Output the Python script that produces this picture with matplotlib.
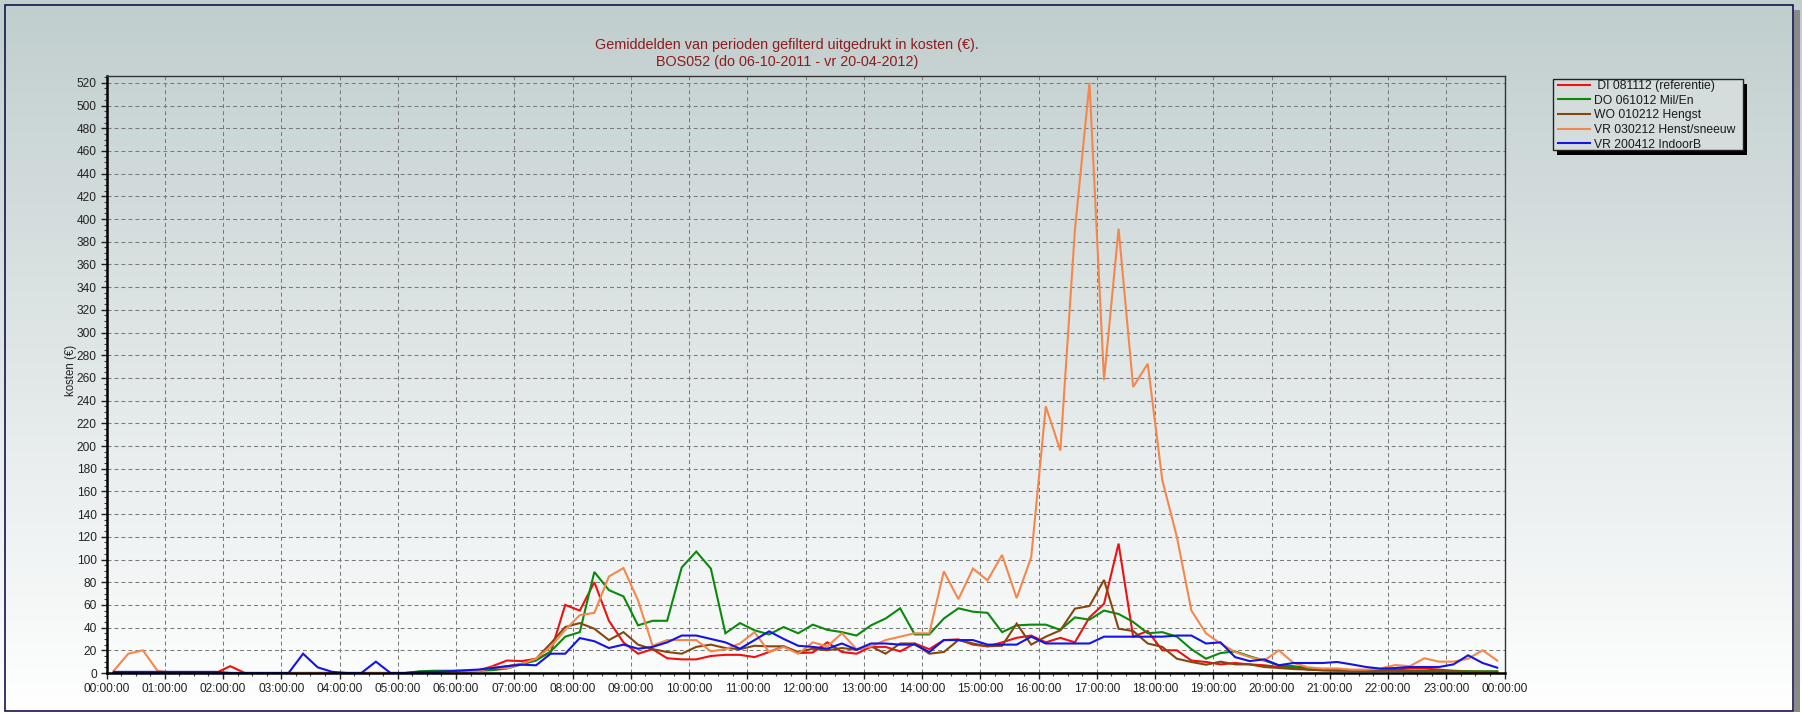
import numpy as np
import matplotlib
matplotlib.use("Agg")
import matplotlib.pyplot as plt
from matplotlib.patches import Rectangle
from matplotlib.ticker import MultipleLocator, FixedLocator

plt.rcParams['font.family'] = ['Liberation Sans', 'DejaVu Sans']

W, H = 1802, 714

# 15-minute slots (values plotted at slot midpoints), hours of the day
slot_minutes = 15
n_slots = 96

hour_labels = ["%02d:00:00" % h for h in range(24)] + ["00:00:00"]

series_names = [" DI 081112 (referentie)", "DO 061012 Mil/En", "WO 010212 Hengst",
                "VR 030212 Henst/sneeuw", "VR 200412 IndoorB"]
series_colors = ["#ee1111", "#0a8a0a", "#84480f", "#f5874d", "#1414e6"]

di_081112 = [0, 0, 0, 0, 0, 0, 0, 0, 6, 0, 0, 0, 0, 0, 0, 0, 0, 0, 0, 0, 0, 0, 0, 0,
             1, 2, 6, 11, 10.5, 12.5, 18, 60, 55, 80, 46, 27, 17, 21, 13, 12, 12, 15, 16, 16,
             14, 18.5, 23.5, 17.6, 18, 27, 18.5, 17, 23, 23, 19, 26, 21, 29, 29.6, 25, 23.5, 27, 31, 33,
             27, 31, 27, 49, 61, 114,
             32, 37, 20, 20, 11, 9.7, 7.6, 8.8, 7.6, 6.8, 5.3, 5.3, 3, 2.5, 2, 2, 2, 2, 3, 4, 4, 3, 2, 1.5, 1, 1]

do_061012 = [0, 0, 0, 0, 0, 0, 0, 0, 0, 0, 0, 0, 0, 0, 0, 0, 0, 0, 0, 0, 0, 1.5, 2, 2,
             2, 2, 2.5, 4, 7.6, 11, 19, 32, 36, 89, 73, 67.5, 42, 46, 46, 93, 107, 92, 35, 44,
             37.6, 34, 40.5, 35, 42.6, 38, 36, 33, 42, 48, 57, 34, 34, 48, 57, 54, 53, 36, 42, 42.6,
             42.6, 38, 49, 47, 55, 52,
             45, 35, 36, 32, 21, 12.6, 17.6, 19, 14.7, 11, 6.8, 6, 4.4, 3, 3, 2.5, 2, 2, 2, 2, 2, 1.5, 1.5, 1.5, 1.5, 1.5]

wo_010212 = [0, 0, 0, 0, 0, 0, 0, 0, 0, 0, 0, 0, 0, 0, 0, 0, 0, 0, 0, 0, 0, 0, 0, 0,
             1, 2, 4, 6, 8, 12.6, 26, 40.5, 44, 39, 29, 36, 25, 21, 18.5, 17, 23, 25, 22, 21,
             24, 23.5, 23.5, 18.5, 21.4, 20, 22, 20.5, 23.5, 17, 26, 26, 17, 18.5, 29, 26, 23.5, 24, 43.5, 25,
             32, 37.6, 56.7, 59, 82, 39,
             37, 26, 23, 12.6, 9.7, 7.3, 10, 7.6, 7.6, 5.3, 4.4, 3.5, 3, 2.3, 2.3, 2, 2, 2, 2, 1.5, 1.5, 1.5, 1.5, 1, 1, 1]

vr_030212 = [2, 17, 20, 2, 0, 0, 0, 0, 0, 0, 0, 0, 0, 0, 0, 0, 0, 0, 0, 0, 0, 0, 0, 0,
             0.5, 1.5, 5, 4, 8, 12.6, 23, 38, 51, 53, 85, 92.5, 64, 24, 29, 29, 29, 19, 21, 26,
             36, 18.5, 23, 17, 27, 23.5, 35, 21, 23.5, 29, 32, 35, 35, 89.6, 65, 92, 81.6, 104, 66, 102,
             235, 196, 390, 520, 258, 391.5,
             252, 272.5, 170, 120, 55, 35, 26, 18.5, 14, 11, 20, 9, 5, 4, 4, 3, 3, 4, 7, 6, 13, 10, 10, 12.6, 20, 11]

vr_200412 = [1, 1, 1, 1, 1, 1, 1, 1, 0, 0, 0, 0, 0, 17, 5, 1, 0, 0, 10, 0, 0, 1, 1, 1.5,
             2.3, 3, 4.4, 6, 7.3, 6.8, 17, 17, 30.8, 28, 22, 25, 21.4, 23, 27, 33, 33, 30, 27, 21.4,
             29, 36.7, 30, 24, 23, 21.4, 26, 20.6, 26, 26, 25, 25, 18.5, 29, 29, 29, 25, 25, 25, 32,
             26, 26, 26, 26, 32, 32,
             32, 32, 32, 33, 33, 26, 27, 14, 10.5, 12, 6.8, 8.8, 8.8, 8.8, 9.7, 7.6, 5.3, 3.8, 4.4, 5.3, 5.3, 5.3, 7.6, 15.6, 8.8, 4.7]

all_series = [di_081112, do_061012, wo_010212, vr_030212, vr_200412]

title_line1 = "Gemiddelden van perioden gefilterd uitgedrukt in kosten (€)."
title_line2 = "BOS052 (do 06-10-2011 - vr 20-04-2012)"
y_label = "kosten (€)"


def fx(x):
    return x / W


def fy(y):
    return 1 - y / H


fig = plt.figure(figsize=(W / 100, H / 100), dpi=100)

# gradient background
bg = fig.add_axes([0, 0, 1, 1], zorder=-10)
grad = np.linspace(0, 1, 256).reshape(-1, 1)
top = np.array([0.757, 0.808, 0.808])
bot = np.array([1.0, 1.0, 1.0])
img = top[None, None, :] * (1 - grad[..., None]) + bot[None, None, :] * grad[..., None]
bg.imshow(img, aspect='auto', extent=[0, 1, 0, 1], origin='upper')
bg.set_xlim(0, 1)
bg.set_ylim(0, 1)
bg.axis('off')

# outer frame with shadow
fig.add_artist(Rectangle((fx(1794), fy(712)), 6 / W, (712 - 10) / H, transform=fig.transFigure,
                         facecolor='#8a8a8a', edgecolor='none', zorder=-5))
fig.add_artist(Rectangle((fx(5), fy(711)), (1793 - 5) / W, (711 - 5) / H, transform=fig.transFigure,
                         facecolor='none', edgecolor='#141450', linewidth=1.2, zorder=5))

left, right, bottom, topy = 106.5, 1504.5, 673, 76
ax = fig.add_axes([fx(left), fy(bottom), (right - left) / W, (bottom - topy) / H])
ax.set_facecolor('none')

t = (np.arange(n_slots) + 0.5) * slot_minutes / 60.0
for vals, name, col in zip(all_series, series_names, series_colors):
    ax.plot(t, vals, color=col, lw=1.5, label=name, solid_joinstyle='miter')

ax.set_xlim(0, 24)
ax.set_ylim(0, 526)
ax.xaxis.set_major_locator(FixedLocator(range(25)))
ax.set_xticklabels(hour_labels)
ax.xaxis.set_minor_locator(MultipleLocator(0.25))
ax.yaxis.set_major_locator(MultipleLocator(20))
ax.yaxis.set_minor_locator(MultipleLocator(5))
ax.set_yticks(range(0, 521, 20))
ax.tick_params(axis='both', which='major', labelsize=8.6, length=4, width=1, colors='#222222', pad=3)
ax.tick_params(axis='both', which='minor', length=2, width=0.8, colors='#444444')
ax.grid(True, which='major', color='#7a7a7a', lw=0.75, ls=(0, (3.8, 2.9)))

for s in ['left', 'bottom']:
    ax.spines[s].set_color('black')
    ax.spines[s].set_linewidth(1.8)
for s in ['top', 'right']:
    ax.spines[s].set_color('#333333')
    ax.spines[s].set_linewidth(1.0)

fig.text(fx(71), fy(370), y_label, rotation=90, ha='center', va='center', fontsize=8.3, color='#222222')

tc = '#8e1c1c'
fig.text(fx(787), fy(45), title_line1, ha='center', va='center', fontsize=10.4, color=tc)
fig.text(fx(787), fy(62), title_line2, ha='center', va='center', fontsize=10.4, color=tc)

# legend box with shadow
lx0, ly0, lx1, ly1 = 1553, 79, 1743, 150
fig.add_artist(Rectangle((fx(lx0 + 4), fy(ly1 + 5)), (lx1 - lx0) / W, (ly1 - ly0) / H,
                         transform=fig.transFigure, facecolor='black', edgecolor='none', zorder=3))
fig.add_artist(Rectangle((fx(lx0), fy(ly1)), (lx1 - lx0) / W, (ly1 - ly0) / H,
                         transform=fig.transFigure, facecolor='#d5dcdc', edgecolor='#222222',
                         linewidth=1, zorder=4))
leg = fig.legend(loc='upper left', bbox_to_anchor=(fx(1558), fy(80)), frameon=False,
                 fontsize=8.7, handlelength=2.65, handletextpad=0.3, labelspacing=0.22,
                 borderpad=0.0, borderaxespad=0)
leg.set_zorder(6)
for txt in leg.get_texts():
    txt.set_color('#1a1a1a')

fig.savefig('out.png', dpi=100)
